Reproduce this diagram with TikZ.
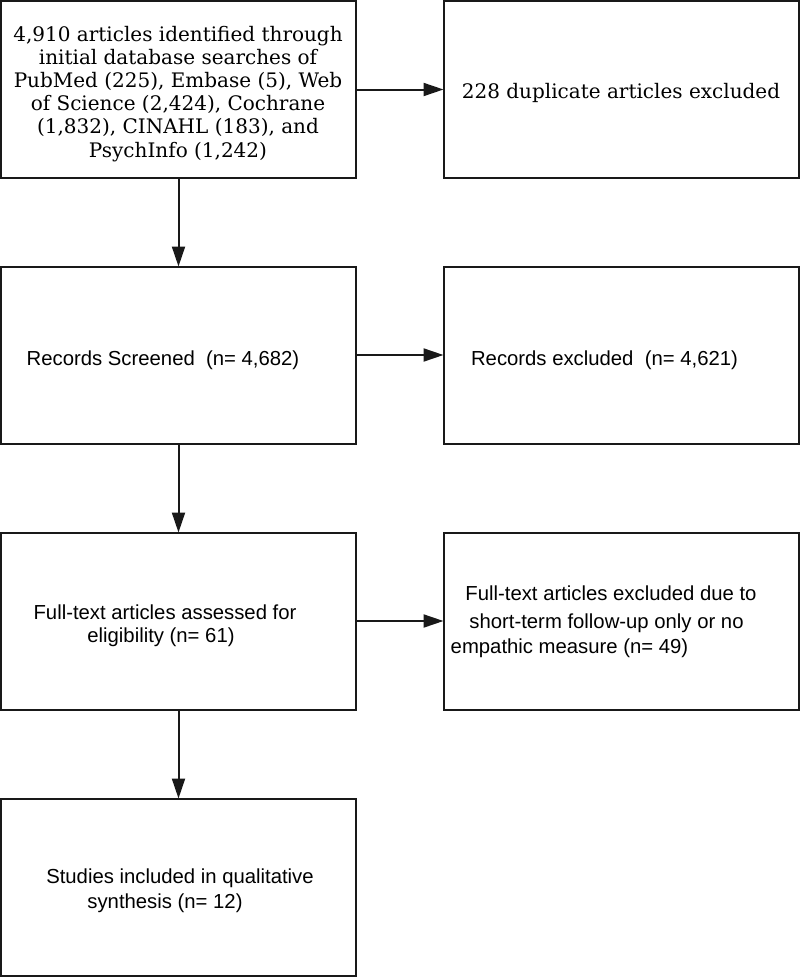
\documentclass[tikz,border=0pt]{standalone}
\usepackage{fontspec}
\setmainfont{Liberation Sans}
\newfontfamily\dvserif{DejaVu Serif}
\usetikzlibrary{arrows.meta}
\begin{document}
\begin{tikzpicture}[x=1pt,y=-1pt,
  box/.style={draw=black!90,line width=2pt,rectangle,inner sep=0pt,outer sep=0pt,minimum width=355pt,minimum height=177pt},
  sertxt/.style={anchor=base,inner sep=0pt,font=\dvserif\fontsize{20pt}{23pt}\selectfont},
  santxt/.style={anchor=base,inner sep=0pt,font=\fontsize{20.3pt}{24pt}\selectfont},
  conn/.style={line width=2pt,draw=black!90,-{Triangle[length=20pt,width=13pt]}}]
\useasboundingbox (0,0) rectangle (800,977);
\fill[white] (0,0) rectangle (800,977);
% boxes
\node[box] (b1) at (178.5,89.5) {};
\node[box] (b2) at (621,89.5) {};
\node[box] (b3) at (178.5,355) {};
\node[box] (b4) at (621,355) {};
\node[box] (b5) at (178.5,621) {};
\node[box] (b6) at (621,621) {};
\node[box] (b7) at (178.5,887) {};
% texts box 1
\node[sertxt] (t1a) at (178,41) {4,910 articles identified through};
\node[sertxt] (t1b) at (178,64) {initial database searches of};
\node[sertxt] (t1c) at (178,87) {PubMed (225), Embase (5), Web};
\node[sertxt] (t1d) at (178,110.5) {of Science (2,424), Cochrane};
\node[sertxt] (t1e) at (178,133.5) {(1,832), CINAHL (183), and};
\node[sertxt] (t1f) at (178,157) {PsychInfo (1,242)};
% box 2
\node[sertxt] (t2) at (621,98) {228 duplicate articles excluded};
% box 3, 4
\node[santxt] (t3) at (163,365) {Records Screened\ \ (n= 4,682)};
\node[santxt] (t4) at (604.5,365) {Records excluded\ \ (n= 4,621)};
% box 5
\node[santxt] (t5a) at (165,619) {Full-text articles assessed for};
\node[santxt] (t5b) at (161,642) {eligibility (n= 61)};
% box 6
\node[santxt] (t6a) at (611,600) {Full-text articles excluded due to};
\node[santxt] (t6b) at (606.5,628) {short-term follow-up only or no};
\node[santxt] (t6c) at (569.5,653) {empathic measure (n= 49)};
% box 7
\node[santxt] (t7a) at (180,883) {Studies included in qualitative};
\node[santxt] (t7b) at (165,908) {synthesis (n= 12)};
% connectors
\draw[conn] (b1.east) -- (b2.west);
\draw[conn] (b3.east) -- (b4.west);
\draw[conn] (b5.east) -- (b6.west);
\draw[conn] (b1.south) -- (b3.north);
\draw[conn] (b3.south) -- (b5.north);
\draw[conn] (b5.south) -- (b7.north);
\end{tikzpicture}
\end{document}
